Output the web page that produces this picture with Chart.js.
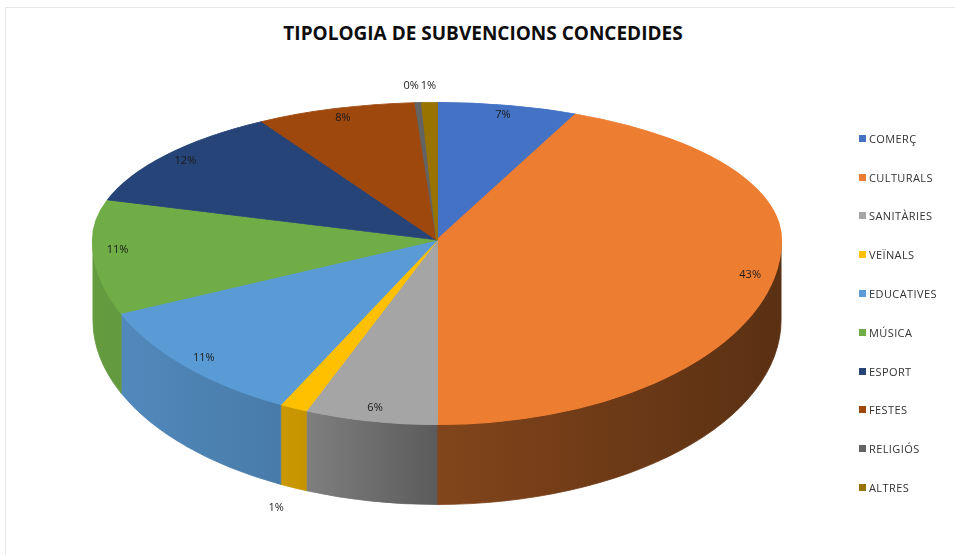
<!DOCTYPE html>
<html>
<head>
<meta charset="utf-8">
<script src="https://cdn.jsdelivr.net/npm/chart.js@4.4.1/dist/chart.umd.min.js"></script>
<style>
  html,body{margin:0;padding:0;background:#fff;}
  #wrap{position:relative;width:955px;height:555px;overflow:hidden;font-family:"Open Sans",sans-serif;}
  #frame{position:absolute;left:5px;top:7px;width:980px;height:580px;border:1px solid #e6e6e6;box-sizing:border-box;}
  #title{position:absolute;left:0;top:20px;width:955px;padding-left:11px;box-sizing:border-box;text-align:center;
    font-weight:700;font-size:19px;color:#0d0d0d;}
  #legend{position:absolute;left:859px;top:119px;}
  .lg{display:flex;align-items:center;height:38.8px;font-size:11px;color:#333;letter-spacing:0.4px;}
  .lg i{display:inline-block;width:7px;height:7px;margin-right:3px;}
  #cv{position:absolute;left:0;top:0;}
</style>
</head>
<body>
<div id="wrap">
  <div id="frame"></div>
  <div id="title">TIPOLOGIA DE SUBVENCIONS CONCEDIDES</div>
  <canvas id="cv" width="955" height="555"></canvas>
  <div id="legend"></div>
</div>
<script>
const labels=['COMERÇ','CULTURALS','SANITÀRIES','VEÏNALS','EDUCATIVES','MÚSICA','ESPORT','FESTES','RELIGIÓS','ALTRES'];
const values=[6.6,43.4,6.2,1.3,11.0,11.2,11.8,7.5,0.3,0.7];
const colors=['#4472C4','#ED7D31','#A5A5A5','#FFC000','#5B9BD5','#70AD47','#264478','#9E480E','#636363','#997300'];

// fake 3d: stretch x, squash the far half, extrude the front half
const SX=1.865, SY_BACK=0.746, SY_FRONT=1, DEPTH=80;

function shade(hex,f){
  const n=parseInt(hex.slice(1),16);
  const r=Math.round(((n>>16)&255)*f),g=Math.round(((n>>8)&255)*f),b=Math.round((n&255)*f);
  return `rgb(${r},${g},${b})`;
}

document.getElementById('legend').innerHTML=labels.map((l,i)=>
  `<div class="lg"><i style="background:${colors[i]}"></i>${l}</div>`).join('');

const pie3d={id:'pie3d',
  beforeDatasetsDraw(chart){
    const {ctx,width,height}=chart;
    const meta=chart.getDatasetMeta(0);
    const a0=meta.data[0]; const cx=a0.x, cy=a0.y, r=a0.outerRadius;
    const R=r*SX, ry=r*SY_FRONT;
    // side walls
    meta.data.forEach((a,i)=>{
      const g=ctx.createLinearGradient(cx-R,0,cx+R,0);
      g.addColorStop(0,shade(colors[i],0.9));
      g.addColorStop(0.3,shade(colors[i],0.78));
      g.addColorStop(0.5,shade(colors[i],0.55));
      g.addColorStop(1,shade(colors[i],0.38));
      for(let k=-1;k<=2;k++){
        const lo=Math.max(a.startAngle,2*Math.PI*k), hi=Math.min(a.endAngle,2*Math.PI*k+Math.PI);
        if(hi<=lo) continue;
        ctx.save();
        ctx.beginPath();
        ctx.ellipse(cx,cy,R,ry,0,lo,hi,false);
        ctx.ellipse(cx,cy+DEPTH,R,ry,0,hi,lo,true);
        ctx.closePath();
        ctx.fillStyle=g; ctx.fill();
        ctx.strokeStyle=g; ctx.lineWidth=0.8; ctx.stroke();
        ctx.restore();
      }
    });
    // top face, drawn in two halves
    [[SY_BACK,0,cy+0.5],[SY_FRONT,cy,height-cy]].forEach(([sy,y0,h])=>{
      ctx.save();
      ctx.beginPath(); ctx.rect(0,y0,width,h); ctx.clip();
      ctx.translate(cx,cy); ctx.scale(SX,sy); ctx.translate(-cx,-cy);
      meta.data.forEach(a=>a.draw(ctx));
      ctx.restore();
    });
    return false;
  },
  afterDraw(chart){
    const {ctx}=chart;
    const meta=chart.getDatasetMeta(0);
    const total=values.reduce((s,v)=>s+v,0);
    ctx.save();
    ctx.font='11px "Open Sans"'; ctx.fillStyle='#1a1a1a';
    ctx.textAlign='center'; ctx.textBaseline='middle';
    const items=meta.data.map((a,i)=>{
      const mid=(a.startAngle+a.endAngle)/2;
      const pct=values[i]/total*100;
      const out=pct<2;
      const rr=a.outerRadius*(out?1.12:0.93);
      const s=Math.sin(mid);
      const txt=Math.round(pct)+'%';
      return {x:a.x+Math.cos(mid)*rr*SX,
              y:a.y+s*rr*(s>0?SY_FRONT:SY_BACK)+(out&&s>0?DEPTH:0),
              txt,out,w:ctx.measureText(txt).width};
    });
    const outs=items.filter(t=>t.out).sort((p,q)=>p.x-q.x);
    for(let i=outs.length-2;i>=0;i--){
      const p=outs[i],q=outs[i+1];
      if(Math.abs(p.y-q.y)<12 && p.x+p.w/2+2>q.x-q.w/2) p.x=q.x-(p.w+q.w)/2-2;
    }
    items.forEach(t=>ctx.fillText(t.txt,t.x,t.y));
    ctx.restore();
  }
};

new Chart(document.getElementById('cv'),{
  type:'pie',
  data:{labels,datasets:[{data:values,backgroundColor:colors,borderColor:colors,borderWidth:1,hoverOffset:0,clip:false}]},
  options:{responsive:false,animation:false,
    layout:{padding:{left:100,right:181,top:55,bottom:130}},
    plugins:{legend:{display:false},title:{display:false},tooltip:{enabled:false}}
  },
  plugins:[pie3d]
});
</script>
</body>
</html>
